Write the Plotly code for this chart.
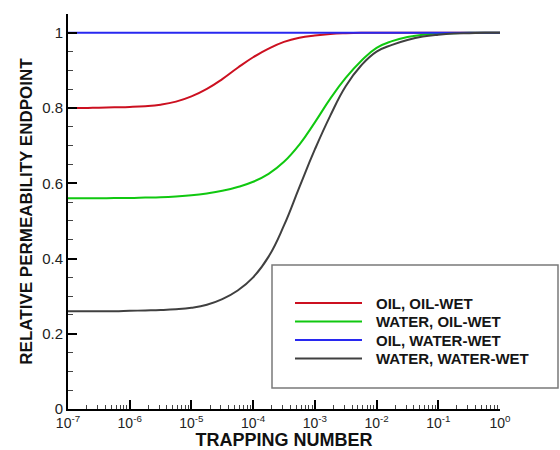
import plotly.graph_objects as go

# Trapping number samples, quarter-decade steps from 1e-7 to 1
trapping_number = [
    1e-7, 1.78e-7, 3.16e-7, 5.62e-7,
    1e-6, 1.78e-6, 3.16e-6, 5.62e-6,
    1e-5, 1.78e-5, 3.16e-5, 5.62e-5,
    1e-4, 1.78e-4, 3.16e-4, 5.62e-4,
    1e-3, 1.78e-3, 3.16e-3, 5.62e-3,
    1e-2, 1.78e-2, 3.16e-2, 5.62e-2,
    1e-1, 1.78e-1, 3.16e-1, 5.62e-1,
    1.0,
]

oil_oil_wet = [
    0.800, 0.800, 0.801, 0.802,
    0.803, 0.805, 0.809, 0.817,
    0.831, 0.851, 0.877, 0.907,
    0.935, 0.958, 0.976, 0.987,
    0.993, 0.997, 0.999, 1.000,
    1.000, 1.000, 1.000, 1.000,
    1.000, 1.000, 1.000, 1.000,
    1.000,
]
water_oil_wet = [
    0.560, 0.560, 0.560, 0.561,
    0.561, 0.562, 0.563, 0.565,
    0.568, 0.573, 0.580, 0.590,
    0.604, 0.625, 0.657, 0.703,
    0.762, 0.825, 0.880, 0.925,
    0.960, 0.978, 0.989, 0.995,
    0.998, 0.999, 1.000, 1.000,
    1.000,
]
oil_water_wet = [
    1.0, 1.0, 1.0, 1.0,
    1.0, 1.0, 1.0, 1.0,
    1.0, 1.0, 1.0, 1.0,
    1.0, 1.0, 1.0, 1.0,
    1.0, 1.0, 1.0, 1.0,
    1.0, 1.0, 1.0, 1.0,
    1.0, 1.0, 1.0, 1.0,
    1.0,
]
water_water_wet = [
    0.260, 0.260, 0.260, 0.260,
    0.261, 0.262, 0.263, 0.265,
    0.269, 0.277, 0.292, 0.315,
    0.350, 0.405, 0.488, 0.590,
    0.690, 0.780, 0.858, 0.913,
    0.950, 0.968, 0.981, 0.990,
    0.995, 0.998, 0.999, 1.000,
    1.000,
]

series_names = ["OIL, OIL-WET", "WATER, OIL-WET", "OIL, WATER-WET", "WATER, WATER-WET"]
series_values = [oil_oil_wet, water_oil_wet, oil_water_wet, water_water_wet]
series_colors = ["#cc1020", "#10c810", "#2828f0", "#404040"]

x_tick_vals = [1e-7, 1e-6, 1e-5, 1e-4, 1e-3, 1e-2, 1e-1, 1e0]
x_tick_text = ["10<sup>-7</sup>", "10<sup>-6</sup>", "10<sup>-5</sup>", "10<sup>-4</sup>",
               "10<sup>-3</sup>", "10<sup>-2</sup>", "10<sup>-1</sup>", "10<sup>0</sup>"]
y_tick_vals = [0, 0.2, 0.4, 0.6, 0.8, 1.0]
y_tick_text = ["0", "0.2", "0.4", "0.6", "0.8", "1"]

FONT = "Liberation Sans, Arial, sans-serif"
W, H = 560, 450
ML, MR, MT, MB = 68, 60, 14, 41
PW, PH = W - ML - MR, H - MT - MB


def px_x(px):
    return (px - ML) / PW


def px_y(py):
    return (H - MB - py) / PH


fig = go.Figure()
for name, vals, col in zip(series_names, series_values, series_colors):
    fig.add_trace(go.Scatter(
        x=trapping_number, y=vals, mode="lines", name=name,
        line=dict(color=col, width=2, shape="spline", smoothing=1.3),
        showlegend=False,
    ))

# Legend drawn as a framed box with sample lines and labels
shapes = [dict(type="rect", xref="paper", yref="paper",
               x0=px_x(272), x1=px_x(558), y0=px_y(388), y1=px_y(265),
               line=dict(color="#7a7a7a", width=1.5), fillcolor="white", layer="above")]
annotations = []
row_y = [303, 321.5, 340, 358.5]
for name, col, ry in zip(series_names, series_colors, row_y):
    shapes.append(dict(type="line", xref="paper", yref="paper",
                       x0=px_x(295), x1=px_x(362), y0=px_y(ry), y1=px_y(ry),
                       line=dict(color=col, width=2), layer="above"))
    annotations.append(dict(xref="paper", yref="paper", x=px_x(374), y=px_y(ry),
                            text="<b>" + name + "</b>", showarrow=False,
                            xanchor="left", yanchor="middle",
                            font=dict(family=FONT, size=15, color="#151515")))

fig.update_layout(
    width=W, height=H,
    margin=dict(l=ML, r=MR, t=MT, b=MB),
    paper_bgcolor="white", plot_bgcolor="white",
    font=dict(family=FONT, color="#222"),
    shapes=shapes, annotations=annotations,
)

fig.update_xaxes(
    type="log", range=[-7, 0], automargin=False,
    tickmode="array", tickvals=x_tick_vals, ticktext=x_tick_text,
    tickfont=dict(size=14, color="#222"),
    ticks="inside", ticklen=9, tickwidth=2, tickcolor="black",
    minor=dict(tickmode="linear", dtick="D1", ticks="inside", ticklen=4,
               tickwidth=1, tickcolor="#444"),
    showline=True, linecolor="black", linewidth=2, mirror=False,
    showgrid=False, zeroline=False,
    title=dict(text="<b>TRAPPING NUMBER</b>", font=dict(family=FONT, size=18, color="#111"),
               standoff=4),
)
fig.update_yaxes(
    range=[0, 1.05], automargin=False,
    tickmode="array", tickvals=y_tick_vals, ticktext=y_tick_text,
    tickfont=dict(size=15, color="#222"),
    ticks="inside", ticklen=9, tickwidth=2, tickcolor="black",
    minor=dict(tickmode="linear", tick0=0, dtick=0.05, ticks="inside", ticklen=5,
               tickwidth=1, tickcolor="#444"),
    showline=True, linecolor="black", linewidth=2, mirror=False,
    showgrid=False, zeroline=False,
    title=dict(text="<b>RELATIVE PERMEABILITY ENDPOINT</b>",
               font=dict(family=FONT, size=17, color="#111"), standoff=5),
)

fig.write_html("out.html")
